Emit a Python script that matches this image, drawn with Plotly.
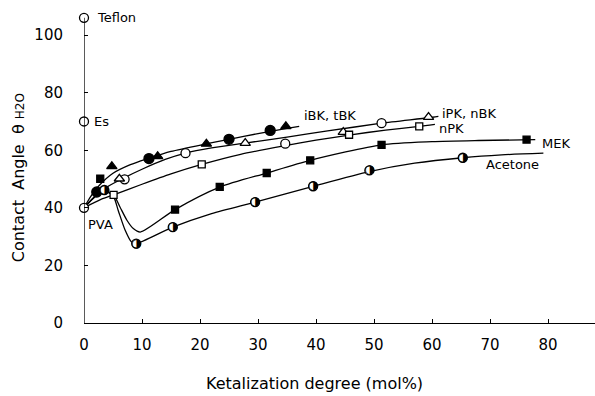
import plotly.graph_objects as go

# ---------------- data ----------------
x_ticks = [0, 10, 20, 30, 40, 50, 60, 70, 80]
y_ticks = [0, 20, 40, 60, 80, 100]

# reference surfaces at x = 0
ref_names = ["Teflon", "Es", "PVA"]
ref_x = [0, 0, 0]
ref_y = [106, 70, 40]

# measured points
ibk_x = [2.2, 11.2, 25.0, 32.1]          # filled circles
ibk_y = [45.5, 57.1, 63.8, 66.9]
tbk_x = [4.8, 12.7, 21.1, 34.8]          # filled triangles
tbk_y = [54.4, 57.9, 62.2, 68.3]
ipk_x = [7.0, 17.5, 34.7, 51.3]          # open circles
ipk_y = [49.9, 59.0, 62.3, 69.4]
nbk_x = [6.1, 27.8, 44.7, 59.4]          # open triangles
nbk_y = [50.1, 62.5, 66.3, 71.5]
npk_x = [5.1, 20.3, 45.7, 57.8]          # open squares
npk_y = [44.5, 55.1, 65.4, 68.3]
mek_x = [2.8, 15.7, 23.4, 31.5, 39.0, 51.3, 76.3]   # filled squares
mek_y = [50.1, 39.4, 47.3, 52.1, 56.5, 61.9, 63.7]
ace_x = [3.5, 9.0, 15.3, 29.5, 39.5, 49.2, 65.3]    # half-filled circles
ace_y = [46.2, 27.6, 33.3, 42.0, 47.5, 53.0, 57.4]

# hand-drawn guide curves
c_bk_x = [0, 1, 2.5, 5, 8, 11, 15, 21, 25, 30, 35, 37.1]
c_bk_y = [40, 43.5, 47.5, 52, 55, 57.1, 59.6, 62.2, 63.8, 65.8, 67.6, 68.3]
c_ipk_x = [0, 2, 4, 7, 10, 14, 17.5, 22, 27.8, 35, 42, 51.3, 59.4, 61.1]
c_ipk_y = [40, 44.3, 47.3, 50.5, 53.4, 56.8, 59.0, 60.8, 62.5, 64.6, 66.7, 69.4, 71.3, 71.8]
c_npk_x = [0, 3, 5.1, 10, 15, 20.3, 27, 34.7, 40, 45.7, 52, 57.8, 60.5]
c_npk_y = [40, 43, 44.5, 48.2, 51.8, 55.1, 58.6, 61.6, 63.5, 65.3, 67.0, 68.3, 69.0]
c_mek_x = [0, 2, 3.5, 5.1, 6.2, 7.4, 8.5, 9.7, 15.7, 23.4, 31.5, 39.0, 51.3, 60, 68, 77.8]
c_mek_y = [40, 44, 45.6, 44.5, 40.3, 35.7, 32.8, 31.6, 39.4, 47.2, 52.1, 56.5, 61.9, 63.0, 63.4, 63.7]
c_ace_x = [0, 2, 3.5, 5.0, 5.9, 7.1, 8.2, 9.0, 15.3, 22, 29.5, 39.5, 49.2, 57, 65.3, 72, 79.2]
c_ace_y = [40, 44, 45.8, 44.3, 39.1, 32.2, 28.1, 27.6, 33.3, 38.0, 42.0, 47.5, 52.6, 55.5, 57.4, 58.4, 59.0]

# ---------------- figure ----------------
FONT = "DejaVu Sans"
LW = 1.3
fig = go.Figure()

for cx, cy in [(c_bk_x, c_bk_y), (c_ipk_x, c_ipk_y), (c_npk_x, c_npk_y),
               (c_mek_x, c_mek_y), (c_ace_x, c_ace_y)]:
    fig.add_trace(go.Scatter(x=cx, y=cy, mode="lines",
                             line=dict(color="black", width=LW, shape="spline", smoothing=0.7),
                             hoverinfo="skip", showlegend=False, cliponaxis=False))

def pts(x, y, symbol, size, fill):
    fig.add_trace(go.Scatter(
        x=x, y=y, mode="markers", showlegend=False, cliponaxis=False,
        marker=dict(symbol=symbol, size=size, color=fill,
                    line=dict(color="black", width=LW))))

pts(ref_x, ref_y, "circle", 9, "white")
pts(ibk_x, ibk_y, "circle", 10, "black")
pts(tbk_x, tbk_y, "triangle-up", 9, "black")
pts(ipk_x, ipk_y, "circle", 9, "white")
pts(nbk_x, nbk_y, "triangle-up", 9, "white")
pts(npk_x, npk_y, "square", 7, "white")
pts(mek_x, mek_y, "square", 7, "black")
# half-filled circles (right half black): white disc + right-half glyph
pts(ace_x, ace_y, "circle", 9, "white")
fig.add_trace(go.Scatter(x=ace_x, y=ace_y, mode="text", text=["\u25D1\uFE0E"] * len(ace_x),
                         textposition="middle center", showlegend=False, cliponaxis=False,
                         textfont=dict(family="DejaVu Sans, DejaVu Sans Mono", size=12, color="black")))

fig.add_shape(type="line", xref="x", yref="y", x0=0, x1=0, y0=0, y1=ref_y[0],
              line=dict(color="black", width=LW))

ann_font = dict(family=FONT, size=13, color="black")
labels = [
    dict(x=0, y=ref_y[0], text="Teflon", xshift=11),
    dict(x=0, y=ref_y[1], text="Es", xshift=8),
    dict(x=0, y=ref_y[2], text="PVA", xshift=2, yshift=-17),
    dict(x=37.5, y=72.1, text="iBK, tBK"),
    dict(x=61.4, y=72.9, text="iPK, nBK"),
    dict(x=60.8, y=67.5, text="nPK"),
    dict(x=78.6, y=62.3, text="MEK"),
    dict(x=69.0, y=55.1, text="Acetone"),
]
for a in labels:
    fig.add_annotation(xref="x", yref="y", showarrow=False, xanchor="left",
                       yanchor="middle", font=ann_font, **a)

fig.add_annotation(xref="paper", yref="paper", x=0.452, y=-0.187, showarrow=False,
                   xanchor="center", yanchor="middle",
                   text="Ketalization degree (mol%)",
                   font=dict(family=FONT, size=16, color="black"))
fig.add_annotation(xref="paper", yref="paper", x=-0.128, y=0.45, showarrow=False,
                   xanchor="center", yanchor="middle", textangle=-90,
                   text="Contact  Angle  \u03B8 <span style='font-size:12px'>H2O</span>",
                   font=dict(family=FONT, size=16, color="black"))

fig.update_layout(
    width=595, height=396,
    margin=dict(l=84, r=0, t=0, b=73),
    paper_bgcolor="white", plot_bgcolor="white",
    xaxis=dict(range=[0, 88.1], tickvals=x_ticks, ticktext=[str(v) for v in x_ticks],
               ticks="inside", ticklen=4, tickwidth=LW, tickcolor="black",
               showline=True, linecolor="black", linewidth=LW,
               showgrid=False, zeroline=False, ticklabelstandoff=8,
               tickfont=dict(family=FONT, size=15, color="black")),
    yaxis=dict(range=[0, 112.2], tickvals=y_ticks, ticktext=[str(v) for v in y_ticks],
               ticks="inside", ticklen=4, tickwidth=LW, tickcolor="black",
               showline=False, showgrid=False, zeroline=False, ticklabelstandoff=20,
               tickfont=dict(family=FONT, size=15, color="black")),
)

fig.write_html("out.html")
